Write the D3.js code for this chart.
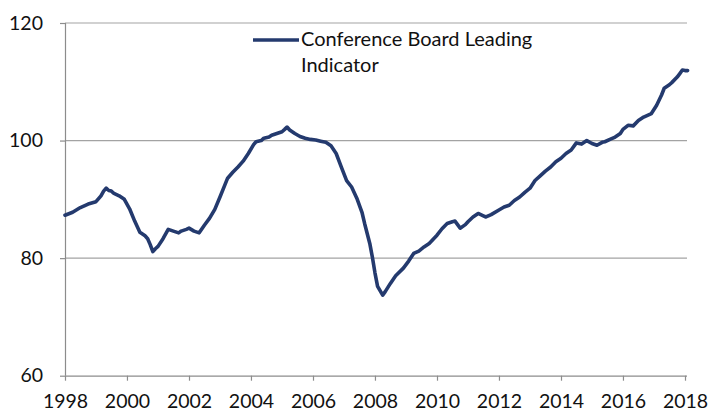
<!DOCTYPE html>
<html>
<head>
<meta charset="utf-8">
<script src="https://cdn.jsdelivr.net/npm/d3@7"></script>
<style>
  html, body { margin: 0; padding: 0; background: #fff; }
  svg { display: block; }
  text { font-family: Lato, "Open Sans", sans-serif; fill: #111; }
</style>
</head>
<body>
<svg id="chart" width="710" height="412"></svg>
<script>
// ---- Data ----
const months = [
  "1998-01","1998-04","1998-07","1998-10","1999-01","1999-03","1999-04","1999-05","1999-06","1999-07",
  "1999-08","1999-10","1999-12","2000-02","2000-04","2000-06","2000-08","2000-09","2000-10","2000-11",
  "2000-12","2001-01","2001-03","2001-05","2001-07","2001-09","2001-10","2001-12","2002-01","2002-03",
  "2002-05","2002-07","2002-09","2002-11","2003-01","2003-03","2003-04","2003-06","2003-08","2003-10",
  "2003-12","2004-02","2004-03","2004-05","2004-06","2004-08","2004-09","2004-11","2005-01","2005-02",
  "2005-03","2005-04","2005-06","2005-08","2005-10","2005-12","2006-02","2006-04","2006-06","2006-08",
  "2006-10","2006-12","2007-02","2007-04","2007-06","2007-08","2007-09","2007-11","2007-12","2008-01",
  "2008-02","2008-04","2008-05","2008-07","2008-09","2008-12","2009-02","2009-04","2009-06","2009-08",
  "2009-10","2010-01","2010-03","2010-05","2010-07","2010-08","2010-10","2010-12","2011-01","2011-03",
  "2011-05","2011-07","2011-08","2011-10","2012-01","2012-03","2012-05","2012-07","2012-09","2012-11",
  "2013-01","2013-03","2013-05","2013-07","2013-09","2013-11","2014-01","2014-03","2014-05","2014-06",
  "2014-07","2014-09","2014-11","2015-01","2015-03","2015-05","2015-06","2015-08","2015-10","2015-12",
  "2016-01","2016-03","2016-05","2016-07","2016-09","2016-12","2017-02","2017-04","2017-05","2017-07",
  "2017-08","2017-10","2017-11","2017-12","2018-01","2018-02"
];
const leadingIndicator = [
  87.3, 87.8, 88.6, 89.2, 89.6, 90.6, 91.4, 91.9, 91.5, 91.4,
  91.0, 90.6, 90.0, 88.4, 86.3, 84.4, 83.8, 83.3, 82.3, 81.1,
  81.6, 82.0, 83.3, 84.9, 84.6, 84.3, 84.6, 84.9, 85.1, 84.6,
  84.3, 85.6, 86.8, 88.3, 90.4, 92.5, 93.6, 94.6, 95.5, 96.5,
  97.8, 99.3, 99.8, 100.0, 100.4, 100.6, 100.9, 101.2, 101.5, 101.9,
  102.3, 101.8, 101.2, 100.7, 100.4, 100.2, 100.1, 99.9, 99.7, 99.1,
  97.8, 95.5, 93.2, 92.1, 90.2, 87.8, 85.9, 82.5, 80.2, 77.5,
  75.2, 73.7, 74.3, 75.7, 77.0, 78.3, 79.5, 80.8, 81.2, 81.9,
  82.5, 83.9, 85.0, 85.9, 86.2, 86.3, 85.1, 85.7, 86.2, 87.0,
  87.6, 87.2, 87.0, 87.4, 88.2, 88.7, 89.0, 89.8, 90.4, 91.2,
  91.9, 93.2, 94.0, 94.8, 95.5, 96.4, 97.0, 97.8, 98.4, 99.0,
  99.6, 99.4, 100.0, 99.5, 99.2, 99.7, 99.8, 100.2, 100.6, 101.2,
  101.9, 102.6, 102.5, 103.4, 104.0, 104.6, 106.0, 107.8, 108.9, 109.5,
  109.9, 110.8, 111.4, 112.0, 111.9, 111.9
];
const yTicks = [60, 80, 100, 120];
const xTickYears = [1998, 2000, 2002, 2004, 2006, 2008, 2010, 2012, 2014, 2016, 2018];
const seriesName = ["Conference Board Leading", "Indicator"];

// ---- Layout ----
const svg = d3.select("#chart");
const parse = d3.timeParse("%Y-%m");
const data = months.map((m, i) => ({ date: parse(m), value: leadingIndicator[i] }));

const plotLeft = 65, plotRight = 685, plotTop = 23, plotBottom = 375.7;
const x = d3.scaleTime()
  .domain([new Date(1998, 0, 1), new Date(2018, 0, 1)])
  .range([plotLeft, plotRight]);
const y = d3.scaleLinear().domain([60, 120]).range([plotBottom, plotTop]);

// Gridlines
svg.append("g")
  .selectAll("line")
  .data(yTicks.filter(d => d > 60))
  .join("line")
  .attr("x1", plotLeft).attr("x2", 687)
  .attr("y1", d => y(d)).attr("y2", d => y(d))
  .attr("stroke", "#a3a3a3").attr("stroke-width", 1.2);

// X axis
const xAxis = d3.axisBottom(x)
  .tickValues(xTickYears.map(yr => new Date(yr, 0, 1)))
  .tickFormat(d3.timeFormat("%Y"))
  .tickSize(5).tickPadding(13);
const gx = svg.append("g").attr("transform", `translate(0,${plotBottom})`).call(xAxis);
gx.select(".domain").attr("stroke", "#8c8c8c").attr("stroke-width", 1.2)
  .attr("d", `M${plotLeft},0.5H687`);
gx.selectAll(".tick line").attr("stroke", "#8c8c8c").attr("stroke-width", 1.2);
gx.selectAll(".tick text").attr("font-size", 19.5).attr("font-family", "Lato, sans-serif")
  .attr("fill", "#111").attr("dy", "0.71em");

// Y axis
const yAxis = d3.axisLeft(y).tickValues(yTicks).tickSize(5).tickPadding(17);
const gy = svg.append("g").attr("transform", `translate(${plotLeft},0)`).call(yAxis);
gy.select(".domain").attr("stroke", "#8c8c8c").attr("stroke-width", 1.2)
  .attr("d", `M0.5,${plotTop}V${plotBottom}`);
gy.selectAll(".tick line").attr("stroke", "#8c8c8c").attr("stroke-width", 1.2);
gy.selectAll(".tick text").attr("font-size", 19.5).attr("font-family", "Lato, sans-serif")
  .attr("fill", "#111");

// Line
const line = d3.line().x(d => x(d.date)).y(d => y(d.value)).curve(d3.curveLinear);
svg.append("path")
  .datum(data)
  .attr("fill", "none")
  .attr("stroke", "#243a6e")
  .attr("stroke-width", 3.6)
  .attr("stroke-linejoin", "round")
  .attr("stroke-linecap", "round")
  .attr("d", line);

// Legend
const lg = svg.append("g");
lg.append("line")
  .attr("x1", 253).attr("x2", 299).attr("y1", 40).attr("y2", 40)
  .attr("stroke", "#243a6e").attr("stroke-width", 3.6);
lg.selectAll("text")
  .data(seriesName)
  .join("text")
  .attr("x", 301)
  .attr("y", (d, i) => 46 + i * 26)
  .attr("font-size", 20)
  .attr("font-family", "Lato, sans-serif")
  .text(d => d);
</script>
</body>
</html>
